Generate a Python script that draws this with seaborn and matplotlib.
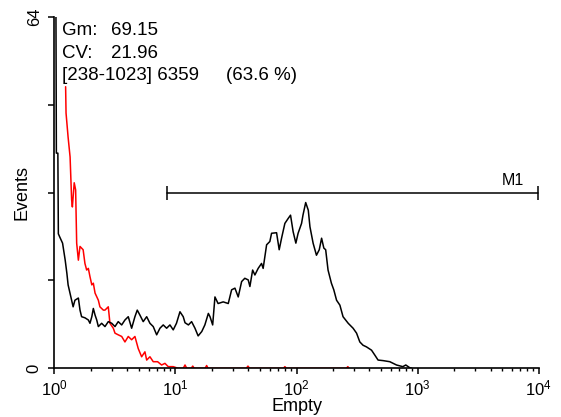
import matplotlib
matplotlib.use('Agg')
import pandas as pd
import matplotlib.pyplot as plt
import seaborn as sns

# histogram (intensity, events); values > 64 are off scale
black_x = [1.00, 1.03, 1.04, 1.07, 1.08, 1.11, 1.17, 1.23, 1.27, 1.30, 1.39, 1.43,
           1.48, 1.58, 1.63, 1.68, 1.79, 1.91, 1.97, 2.04, 2.10, 2.17, 2.24, 2.31,
           2.46, 2.62, 2.79, 2.98, 3.17, 3.37, 3.60, 3.83, 4.08, 4.35, 4.63, 4.84,
           5.09, 5.42, 5.79, 6.16, 6.56, 7.00, 7.45, 7.93, 8.46, 9.01, 9.59, 10.2,
           10.9, 11.6, 12.0, 12.8, 13.6, 14.5, 15.4, 16.5, 17.5, 18.7, 19.3, 20.3,
           21.2, 22.5, 24.8, 27.3, 29.1, 31.0, 33.0, 35.2, 37.4, 39.9, 41.2, 43.4,
           45.3, 48.2, 51.4, 53.0, 56.6, 60.2, 62.2, 68.4, 71.9, 75.2, 80.1, 85.3,
           89.2, 93.7, 98.7, 103, 110, 113, 119, 125, 129, 137, 146, 154,
           161, 168, 174, 182, 194, 203, 214, 228, 242, 267, 293, 313,
           333, 354, 378, 416, 443, 471, 518, 589, 669, 754, 798, 861, 894]
black_y = [70, 70, 39.2, 39.2, 24.5, 23.9, 22.8, 19.7, 17.3, 15.2, 12.4, 11.2,
           12.4, 12.8, 10.6, 9.4, 9.2, 8.8, 8.2, 9.4, 10.9, 9.7, 8.8, 7.6,
           8.2, 7.6, 8.5, 8.2, 7.6, 8.5, 7.9, 8.8, 9.4, 7.3, 9.4, 10.6,
           9.7, 8.5, 9.4, 8.2, 7.6, 6.1, 7.3, 7.9, 7.3, 7.9, 7.0, 8.2,
           10.3, 9.4, 8.3, 7.9, 8.5, 7.3, 5.9, 6.7, 7.9, 10.0, 9.4, 7.9,
           13.0, 11.8, 12.1, 11.8, 14.3, 14.6, 13.0, 15.8, 16.4, 16.1, 14.9, 17.9,
           17.0, 18.2, 19.1, 18.2, 22.5, 23.1, 24.6, 24.7, 21.6, 23.7, 26.4, 27.3,
           27.9, 24.9, 22.8, 24.6, 26.4, 27.9, 30.2, 28.8, 25.8, 22.8, 20.6, 21.6,
           23.7, 21.9, 21.6, 17.9, 15.5, 14.3, 12.4, 11.5, 9.4, 8.2, 7.3, 6.4,
           4.8, 4.2, 3.9, 3.3, 2.4, 1.5, 1.4, 1.2, 0.6, 0.3, 0.6, 0.1, 0]

red_x = [1.24, 1.25, 1.30, 1.35, 1.39, 1.41, 1.46, 1.50, 1.53, 1.58, 1.63, 1.73,
         1.79, 1.85, 1.91, 1.97, 2.04, 2.10, 2.17, 2.31, 2.38, 2.54, 2.62, 2.79,
         2.88, 3.07, 3.17, 3.37, 3.60, 3.83, 4.08, 4.35, 4.63, 4.93, 5.26, 5.60,
         5.79, 6.16, 6.56, 7.13, 7.69, 8.19, 8.72, 9.59, 10.5, 11.6, 12.0, 12.4,
         13.5, 13.9, 14.3, 17.6, 18.1, 18.6, 38.5, 39.7, 41.0, 78.0, 80.1, 82.5,
         258, 265, 272]
red_y = [51.3, 46.5, 42.1, 38.5, 30.7, 29.4, 33.8, 32.5, 22.8, 19.7, 22.2, 21.6,
         19.1, 17.9, 18.2, 16.7, 15.2, 15.5, 13.7, 12.4, 11.2, 10.6, 10.6, 11.2,
         8.2, 7.3, 6.4, 6.1, 5.8, 4.8, 5.8, 5.2, 5.8, 3.6, 2.1, 3.0,
         1.5, 2.1, 1.2, 1.2, 0.6, 0.9, 0.3, 0.3, 0, 0, 0.6, 0,
         0, 0.4, 0, 0, 0.5, 0, 0, 0.4, 0, 0, 0.3, 0,
         0, 0.3, 0]

# marker M1 = channels 238-1023 on a 4 decade scale
m1_range = [8.49, 9910]
m1_level = 32
y_ticks = [0, 16, 32, 48, 64]
y_ticklabels = ['0', '', '', '', '64']

stat_names = ['Gm:', 'CV:']
stat_values = ['69.15', '21.96']
gate_text = '[238-1023] 6359'
gate_pct = '(63.6 %)'

sns.set_style('ticks')
plt.rcParams['font.family'] = ['Liberation Sans', 'DejaVu Sans']
plt.rcParams['mathtext.default'] = 'regular'
plt.rcParams['text.color'] = 'black'
plt.rcParams['axes.labelcolor'] = 'black'

fig = plt.figure(figsize=(5.61, 4.17), dpi=100)
ax = fig.add_axes([0.0968, 0.1168, 0.8636, 0.8424])

df_black = pd.DataFrame({'x': black_x, 'y': black_y})
df_red = pd.DataFrame({'x': red_x, 'y': red_y})
sns.lineplot(data=df_red, x='x', y='y', color='red', lw=1.1, estimator=None, sort=False, ax=ax)
sns.lineplot(data=df_black, x='x', y='y', color='black', lw=1.1, estimator=None, sort=False, ax=ax)

ax.set_xscale('log')
ax.set_xlim(1, 10000)
ax.set_ylim(0, 64)
sns.despine(ax=ax)
for s in ['left', 'bottom']:
    ax.spines[s].set_linewidth(1.2)
    ax.spines[s].set_color('black')

ax.set_yticks(y_ticks)
ax.set_yticklabels(y_ticklabels, rotation=90, va='center')
ax.tick_params(axis='both', which='major', length=4, width=1.1, colors='black', labelsize=12, pad=3)
ax.tick_params(axis='y', pad=5)
ax.tick_params(axis='x', which='minor', length=2, width=1.0, colors='black')

ax.set_xlabel('Empty', fontsize=13)
ax.set_ylabel('Events', fontsize=13)
ax.xaxis.set_label_coords(0.5, -0.085)
ax.yaxis.set_label_coords(-0.05, 0.5)

# marker bar
ax.plot(m1_range, [m1_level, m1_level], color='black', lw=1.1, marker='|', markersize=10, mew=1.1)
ax.text(6100, 33.4, 'M1', ha='center', va='baseline', fontsize=11.5)

# stats
rows = [0.9488, 0.8824]
for name, val, yy in zip(stat_names, stat_values, rows):
    ax.text(0.016, yy, name, transform=ax.transAxes, fontsize=13.5, va='baseline')
    ax.text(0.117, yy, val, transform=ax.transAxes, fontsize=13.5, va='baseline')
ax.text(0.016, 0.8207, gate_text, transform=ax.transAxes, fontsize=13.5, va='baseline')
ax.text(0.354, 0.8207, gate_pct, transform=ax.transAxes, fontsize=13.5, va='baseline')

fig.savefig('out.png', dpi=100)
